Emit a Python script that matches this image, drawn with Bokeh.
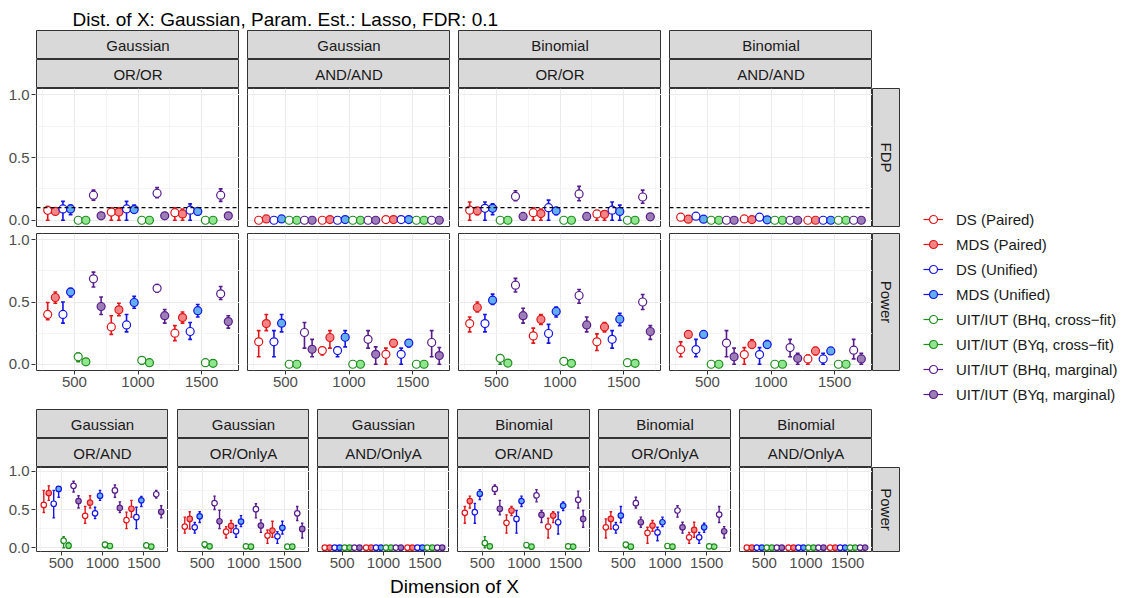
from bokeh.plotting import figure
from bokeh.layouts import row, column
from bokeh.models import (ColumnDataSource, FixedTicker, PrintfTickFormatter, Span,
                          Legend, LegendItem, Range1d, LinearAxis, Grid)
from bokeh.embed import file_html
from bokeh.resources import INLINE
from bokeh.core.properties import value
import math

FONT = "Liberation Sans"
TITLE = "Dist. of X: Gaussian, Param. Est.: Lasso, FDR: 0.1"
X_LABEL = "Dimension of X"

# ---------------------------------------------------------------- data
methods = ["DS (Paired)", "MDS (Paired)", "DS (Unified)", "MDS (Unified)",
           "UIT/IUT (BHq, cross\u2212fit)", "UIT/IUT (BYq, cross\u2212fit)",
           "UIT/IUT (BHq, marginal)", "UIT/IUT (BYq, marginal)"]
line_colors = ["#E0161B", "#E0161B", "#1414E6", "#1414E6",
               "#1E8C1E", "#1E8C1E", "#561C8C", "#561C8C"]
fill_colors = ["#FFFFFF", "#F28585", "#FFFFFF", "#63B0EC",
               "#FFFFFF", "#8FE68F", "#FFFFFF", "#9C7DB6"]
dims = [500, 1000, 1500]
fdr_level = 0.1

top_designs = ["Gaussian", "Gaussian", "Binomial", "Binomial"]
top_rules = ["OR/OR", "AND/AND", "OR/OR", "AND/AND"]
bottom_designs = ["Gaussian", "Gaussian", "Gaussian", "Binomial", "Binomial", "Binomial"]
bottom_rules = ["OR/AND", "OR/OnlyA", "AND/OnlyA", "OR/AND", "OR/OnlyA", "AND/OnlyA"]

# each block: one row of 8 methods per dimension (500, 1000, 1500)
gau_oror_fdp = [[0.079, 0.07, 0.09, 0.09, 0.0, 0.0, 0.20, 0.035],
                [0.065, 0.065, 0.09, 0.085, 0.0, 0.0, 0.215, 0.035],
                [0.06, 0.05, 0.08, 0.07, 0.0, 0.0, 0.20, 0.035]]
gau_oror_fdp_lo = [[0.0, 0.055, 0.0, 0.045, 0.0, 0.0, 0.16, 0.03],
                   [0.0, 0.0, 0.0, 0.06, 0.0, 0.0, 0.18, 0.03],
                   [0.0, 0.0, 0.0, 0.045, 0.0, 0.0, 0.15, 0.03]]
gau_oror_fdp_hi = [[0.11, 0.085, 0.15, 0.12, 0.0, 0.0, 0.24, 0.04],
                   [0.10, 0.10, 0.15, 0.12, 0.0, 0.0, 0.26, 0.04],
                   [0.10, 0.09, 0.13, 0.10, 0.0, 0.0, 0.25, 0.04]]
gau_oror_pow = [[0.40, 0.536, 0.40, 0.58, 0.06, 0.02, 0.686, 0.464],
                [0.30, 0.437, 0.316, 0.496, 0.032, 0.013, 0.61, 0.39],
                [0.25, 0.375, 0.263, 0.43, 0.013, 0.008, 0.566, 0.343]]
gau_oror_pow_lo = [[0.357, 0.49, 0.33, 0.54, 0.02, 0.0, 0.62, 0.40],
                   [0.24, 0.39, 0.26, 0.45, 0.0, 0.0, 0.58, 0.33],
                   [0.19, 0.33, 0.20, 0.38, 0.0, 0.0, 0.52, 0.29]]
gau_oror_pow_hi = [[0.496, 0.58, 0.50, 0.61, 0.09, 0.035, 0.74, 0.54],
                   [0.39, 0.49, 0.40, 0.545, 0.05, 0.03, 0.64, 0.44],
                   [0.31, 0.42, 0.335, 0.48, 0.03, 0.02, 0.625, 0.39]]

gau_andand_fdp = [[0.0, 0.01, 0.0, 0.01, 0.0, 0.0, 0.0, 0.0],
                  [0.0, 0.005, 0.0, 0.005, 0.0, 0.0, 0.0, 0.0],
                  [0.005, 0.005, 0.005, 0.005, 0.0, 0.0, 0.0, 0.0]]
gau_andand_fdp_lo = [[0.0, 0.0, 0.0, 0.0, 0.0, 0.0, 0.0, 0.0],
                     [0.0, 0.0, 0.0, 0.0, 0.0, 0.0, 0.0, 0.0],
                     [0.0, 0.0, 0.0, 0.0, 0.0, 0.0, 0.0, 0.0]]
gau_andand_fdp_hi = [[0.005, 0.02, 0.005, 0.02, 0.0, 0.0, 0.0, 0.0],
                     [0.005, 0.01, 0.005, 0.01, 0.0, 0.0, 0.0, 0.0],
                     [0.01, 0.01, 0.01, 0.01, 0.0, 0.0, 0.0, 0.0]]
gau_andand_pow = [[0.18, 0.327, 0.18, 0.33, 0.0, 0.0, 0.255, 0.12],
                  [0.11, 0.215, 0.11, 0.217, 0.0, 0.0, 0.20, 0.08],
                  [0.08, 0.17, 0.08, 0.17, 0.0, 0.0, 0.175, 0.07]]
gau_andand_pow_lo = [[0.06, 0.27, 0.06, 0.26, 0.0, 0.0, 0.13, 0.06],
                     [0.075, 0.13, 0.06, 0.14, 0.0, 0.0, 0.13, 0.0],
                     [0.0, 0.14, 0.0, 0.14, 0.0, 0.0, 0.06, 0.0]]
gau_andand_pow_hi = [[0.27, 0.40, 0.27, 0.40, 0.0, 0.0, 0.335, 0.20],
                     [0.14, 0.27, 0.14, 0.27, 0.0, 0.0, 0.27, 0.14],
                     [0.13, 0.195, 0.13, 0.195, 0.0, 0.0, 0.27, 0.135]]

bin_oror_fdp = [[0.08, 0.075, 0.095, 0.095, 0.0, 0.0, 0.19, 0.03],
                [0.06, 0.053, 0.10, 0.075, 0.0, 0.0, 0.21, 0.03],
                [0.05, 0.047, 0.08, 0.07, 0.0, 0.0, 0.185, 0.027]]
bin_oror_fdp_lo = [[0.0, 0.045, 0.0, 0.045, 0.0, 0.0, 0.155, 0.025],
                   [0.0, 0.0, 0.0, 0.045, 0.0, 0.0, 0.155, 0.025],
                   [0.0, 0.0, 0.0, 0.0, 0.0, 0.0, 0.135, 0.022]]
bin_oror_fdp_hi = [[0.145, 0.10, 0.145, 0.13, 0.0, 0.0, 0.235, 0.035],
                   [0.10, 0.09, 0.16, 0.10, 0.0, 0.0, 0.27, 0.035],
                   [0.075, 0.075, 0.145, 0.12, 0.0, 0.0, 0.24, 0.032]]
bin_oror_pow = [[0.327, 0.456, 0.327, 0.515, 0.048, 0.01, 0.635, 0.39],
                [0.228, 0.36, 0.247, 0.424, 0.024, 0.008, 0.552, 0.316],
                [0.18, 0.30, 0.20, 0.362, 0.013, 0.008, 0.50, 0.263]]
bin_oror_pow_lo = [[0.26, 0.42, 0.26, 0.48, 0.0, 0.0, 0.58, 0.33],
                   [0.17, 0.32, 0.17, 0.38, 0.0, 0.0, 0.49, 0.26],
                   [0.11, 0.26, 0.13, 0.31, 0.0, 0.0, 0.44, 0.20]]
bin_oror_pow_hi = [[0.38, 0.50, 0.40, 0.563, 0.075, 0.025, 0.69, 0.45],
                   [0.29, 0.40, 0.32, 0.46, 0.04, 0.02, 0.60, 0.38],
                   [0.244, 0.335, 0.27, 0.41, 0.025, 0.02, 0.56, 0.31]]

bin_andand_fdp = [[0.024, 0.008, 0.032, 0.008, 0.0, 0.0, 0.0, 0.0],
                  [0.01, 0.005, 0.024, 0.003, 0.0, 0.0, 0.0, 0.0],
                  [0.0, 0.0, 0.0, 0.0, 0.0, 0.0, 0.0, 0.0]]
bin_andand_fdp_lo = [[0.015, 0.0, 0.02, 0.0, 0.0, 0.0, 0.0, 0.0],
                     [0.0, 0.0, 0.01, 0.0, 0.0, 0.0, 0.0, 0.0],
                     [0.0, 0.0, 0.0, 0.0, 0.0, 0.0, 0.0, 0.0]]
bin_andand_fdp_hi = [[0.033, 0.016, 0.044, 0.016, 0.0, 0.0, 0.0, 0.0],
                     [0.02, 0.01, 0.038, 0.006, 0.0, 0.0, 0.0, 0.0],
                     [0.0, 0.0, 0.0, 0.0, 0.0, 0.0, 0.0, 0.0]]
bin_andand_pow = [[0.118, 0.24, 0.118, 0.24, 0.0, 0.0, 0.17, 0.06],
                  [0.078, 0.158, 0.078, 0.158, 0.0, 0.0, 0.134, 0.048],
                  [0.043, 0.107, 0.043, 0.107, 0.0, 0.0, 0.113, 0.043]]
bin_andand_pow_lo = [[0.06, 0.22, 0.06, 0.22, 0.0, 0.0, 0.06, 0.0],
                     [0.0, 0.13, 0.0, 0.13, 0.0, 0.0, 0.06, 0.0],
                     [0.0, 0.075, 0.0, 0.08, 0.0, 0.0, 0.043, 0.0]]
bin_andand_pow_hi = [[0.18, 0.265, 0.20, 0.265, 0.0, 0.0, 0.27, 0.13],
                     [0.134, 0.196, 0.134, 0.19, 0.0, 0.0, 0.20, 0.088],
                     [0.075, 0.134, 0.088, 0.13, 0.0, 0.0, 0.20, 0.088]]

gau_orand_pow = [[0.56, 0.715, 0.575, 0.77, 0.092, 0.026, 0.81, 0.61],
                 [0.417, 0.59, 0.45, 0.68, 0.04, 0.022, 0.75, 0.52],
                 [0.36, 0.51, 0.40, 0.62, 0.03, 0.013, 0.70, 0.47]]
gau_orand_pow_lo = [[0.46, 0.62, 0.39, 0.66, 0.0, 0.0, 0.73, 0.52],
                    [0.32, 0.52, 0.38, 0.62, 0.0, 0.0, 0.66, 0.46],
                    [0.25, 0.40, 0.25, 0.54, 0.0, 0.0, 0.65, 0.39]]
gau_orand_pow_hi = [[0.75, 0.81, 0.75, 0.80, 0.145, 0.07, 0.87, 0.68],
                    [0.54, 0.68, 0.53, 0.75, 0.07, 0.05, 0.82, 0.60],
                    [0.465, 0.62, 0.53, 0.67, 0.06, 0.03, 0.75, 0.55]]

gau_oronlya_pow = [[0.276, 0.377, 0.267, 0.41, 0.044, 0.018, 0.583, 0.346],
                   [0.21, 0.285, 0.215, 0.342, 0.018, 0.013, 0.504, 0.29],
                   [0.158, 0.224, 0.149, 0.26, 0.013, 0.013, 0.45, 0.245]]
gau_oronlya_pow_lo = [[0.19, 0.245, 0.19, 0.33, 0.0, 0.0, 0.50, 0.25],
                      [0.127, 0.20, 0.136, 0.276, 0.0, 0.0, 0.39, 0.20],
                      [0.057, 0.136, 0.057, 0.18, 0.0, 0.0, 0.355, 0.127]]
gau_oronlya_pow_hi = [[0.40, 0.47, 0.33, 0.47, 0.07, 0.04, 0.675, 0.49],
                      [0.276, 0.355, 0.29, 0.42, 0.03, 0.025, 0.575, 0.364],
                      [0.232, 0.346, 0.21, 0.346, 0.025, 0.025, 0.54, 0.32]]

gau_andonlya_pow = [[0.0] * 8, [0.0] * 8, [0.0] * 8]
gau_andonlya_pow_lo = [[0.0] * 8, [0.0] * 8, [0.0] * 8]
gau_andonlya_pow_hi = [[0.0] * 8, [0.0] * 8, [0.0] * 8]

bin_orand_pow = [[0.456, 0.61, 0.465, 0.706, 0.06, 0.018, 0.77, 0.51],
                 [0.325, 0.487, 0.377, 0.61, 0.035, 0.013, 0.684, 0.43],
                 [0.276, 0.42, 0.333, 0.55, 0.018, 0.013, 0.627, 0.377]]
bin_orand_pow_lo = [[0.32, 0.52, 0.32, 0.63, 0.0, 0.0, 0.70, 0.43],
                    [0.19, 0.42, 0.19, 0.54, 0.0, 0.0, 0.60, 0.33],
                    [0.127, 0.33, 0.18, 0.487, 0.0, 0.0, 0.52, 0.267]]
bin_orand_pow_hi = [[0.54, 0.675, 0.58, 0.76, 0.145, 0.04, 0.82, 0.62],
                    [0.43, 0.54, 0.487, 0.675, 0.06, 0.03, 0.76, 0.487],
                    [0.386, 0.47, 0.465, 0.60, 0.035, 0.025, 0.74, 0.487]]

bin_oronlya_pow = [[0.267, 0.377, 0.267, 0.42, 0.04, 0.013, 0.583, 0.333],
                   [0.193, 0.29, 0.20, 0.333, 0.022, 0.013, 0.487, 0.267],
                   [0.136, 0.232, 0.136, 0.267, 0.018, 0.013, 0.434, 0.215]]
bin_oronlya_pow_lo = [[0.127, 0.245, 0.19, 0.33, 0.0, 0.0, 0.52, 0.267],
                      [0.057, 0.215, 0.09, 0.276, 0.0, 0.0, 0.40, 0.19],
                      [0.057, 0.136, 0.057, 0.20, 0.0, 0.0, 0.33, 0.127]]
bin_oronlya_pow_hi = [[0.377, 0.47, 0.33, 0.54, 0.065, 0.03, 0.66, 0.40],
                      [0.267, 0.355, 0.267, 0.40, 0.035, 0.025, 0.55, 0.333],
                      [0.20, 0.333, 0.20, 0.32, 0.03, 0.025, 0.54, 0.276]]

bin_andonlya_pow = [[0.0] * 8, [0.0] * 8, [0.0] * 8]
bin_andonlya_pow_lo = [[0.0] * 8, [0.0] * 8, [0.0] * 8]
bin_andonlya_pow_hi = [[0.0] * 8, [0.0] * 8, [0.0] * 8]

top_fdp = [(gau_oror_fdp, gau_oror_fdp_lo, gau_oror_fdp_hi),
           (gau_andand_fdp, gau_andand_fdp_lo, gau_andand_fdp_hi),
           (bin_oror_fdp, bin_oror_fdp_lo, bin_oror_fdp_hi),
           (bin_andand_fdp, bin_andand_fdp_lo, bin_andand_fdp_hi)]
top_pow = [(gau_oror_pow, gau_oror_pow_lo, gau_oror_pow_hi),
           (gau_andand_pow, gau_andand_pow_lo, gau_andand_pow_hi),
           (bin_oror_pow, bin_oror_pow_lo, bin_oror_pow_hi),
           (bin_andand_pow, bin_andand_pow_lo, bin_andand_pow_hi)]
bottom_pow = [(gau_orand_pow, gau_orand_pow_lo, gau_orand_pow_hi),
              (gau_oronlya_pow, gau_oronlya_pow_lo, gau_oronlya_pow_hi),
              (gau_andonlya_pow, gau_andonlya_pow_lo, gau_andonlya_pow_hi),
              (bin_orand_pow, bin_orand_pow_lo, bin_orand_pow_hi),
              (bin_oronlya_pow, bin_oronlya_pow_lo, bin_oronlya_pow_hi),
              (bin_andonlya_pow, bin_andonlya_pow_lo, bin_andonlya_pow_hi)]

# ---------------------------------------------------------------- style
DODGE = 60        # spacing of the 8 methods inside one dimension group
CAP = 15          # half width of error bar caps (data units)
X_RANGE = (202, 1798)
Y_RANGE = (-0.05, 1.05)
STRIP_FILL = "#D9D9D9"
FRAME = "#333333"
TICK_TEXT = "#4D4D4D"
AXIS_STYLE = dict(axis_line_color=None, major_tick_line_color=FRAME, major_tick_out=4,
                  major_tick_in=0, minor_tick_line_color=None, major_label_standoff=2,
                  major_label_text_font=FONT, major_label_text_font_size="15px",
                  major_label_text_color=TICK_TEXT)


def build_source(series):
    est, lo, hi = series
    d = dict(x=[], y=[], lo=[], hi=[], cl=[], cr=[], lc=[], fc=[])
    for g, dim in enumerate(dims):
        for m in range(len(methods)):
            xv = dim + (m - (len(methods) - 1) / 2) * DODGE
            d["x"].append(xv)
            d["y"].append(est[g][m])
            d["lo"].append(lo[g][m])
            d["hi"].append(hi[g][m])
            d["cl"].append(xv - CAP)
            d["cr"].append(xv + CAP)
            d["lc"].append(line_colors[m])
            d["fc"].append(fill_colors[m])
    return ColumnDataSource(d)


def blank(fw, fh, left=0, top=0, bottom=0, right=0, fill="white", outline=None,
          xr=(0, 1), yr=(0, 1)):
    f = figure(frame_width=fw, frame_height=fh, x_range=Range1d(*xr), y_range=Range1d(*yr),
               x_axis_location=None, y_axis_location=None, toolbar_location=None,
               output_backend="svg", min_border_left=left, min_border_right=right,
               min_border_top=top, min_border_bottom=bottom,
               background_fill_color=fill, border_fill_color="white",
               outline_line_color=outline, outline_line_width=1)
    f.center = [c for c in f.center if not isinstance(c, Grid)]
    return f


def strip(label, fw, fh, left=0, top=0, bottom=0, vertical=False):
    s = blank(fw, fh, left=left, top=top, bottom=bottom, fill=STRIP_FILL, outline=FRAME)
    s.text(x=[0.5], y=[0.5], text=[label], text_align="center", text_baseline="middle",
           angle=-math.pi / 2 if vertical else 0,
           text_font=value(FONT), text_font_size="15px", text_color="#1A1A1A")
    return s


def y_axis_fig(fh, top, bottom):
    # narrow figure that only carries the shared y axis of a panel row
    a = blank(1, fh, left=35, top=top, bottom=bottom, yr=Y_RANGE)
    a.add_layout(LinearAxis(ticker=FixedTicker(ticks=[0, 0.5, 1.0]),
                            formatter=PrintfTickFormatter(format="%.1f"), **AXIS_STYLE), "left")
    return a


def panel(series, fw, fh, left, top, bottom, size, bar_w, fdr=False):
    p = blank(fw, fh, left=left, top=top, bottom=bottom, outline=FRAME,
              xr=X_RANGE, yr=Y_RANGE)
    p.add_layout(Grid(dimension=0, ticker=FixedTicker(ticks=dims, minor_ticks=[250, 750, 1250, 1750]),
                      grid_line_color="#EBEBEB", grid_line_width=1.1,
                      minor_grid_line_color="#F2F2F2", minor_grid_line_width=0.8), "center")
    p.add_layout(Grid(dimension=1, ticker=FixedTicker(ticks=[0, 0.5, 1.0], minor_ticks=[0.25, 0.75]),
                      grid_line_color="#EBEBEB", grid_line_width=1.1,
                      minor_grid_line_color="#F2F2F2", minor_grid_line_width=0.8), "center")
    if bottom > 4:
        p.add_layout(LinearAxis(ticker=FixedTicker(ticks=dims), **AXIS_STYLE), "below")
    if fdr:
        p.add_layout(Span(location=fdr_level, dimension="width", line_color="black",
                          line_width=1.3, line_dash="4 3"))
    src = build_source(series)
    p.segment(x0="x", y0="lo", x1="x", y1="hi", line_color="lc", line_width=bar_w, source=src)
    p.segment(x0="cl", y0="hi", x1="cr", y1="hi", line_color="lc", line_width=bar_w, source=src)
    p.segment(x0="cl", y0="lo", x1="cr", y1="lo", line_color="lc", line_width=bar_w, source=src)
    p.scatter(x="x", y="y", size=size, marker="circle", line_color="lc", fill_color="fc",
              line_width=1.2, source=src)
    return p


# ---------------------------------------------------------------- title
title_fig = blank(1133, 30, xr=(0, 1133), yr=(0, 30))
title_fig.text(x=[36], y=[11], text=[TITLE], text_align="left", text_baseline="alphabetic",
               text_font=value(FONT), text_font_size="19px", text_color="black")

# ---------------------------------------------------------------- top block
TOP_W = 203
top_axes = column(y_axis_fig(138, 58, 4), y_axis_fig(137, 3, 39), spacing=0)
top_cols = []
for i in range(4):
    left = 0 if i == 0 else 8
    sA = strip(top_designs[i], TOP_W, 29, left=left)
    sB = strip(top_rules[i], TOP_W, 29, left=left)
    pf = panel(top_fdp[i], TOP_W, 138, left, 0, 4, 8, 1.6, fdr=True)
    pp = panel(top_pow[i], TOP_W, 137, left, 3, 39, 8, 1.6)
    top_cols.append(column(sA, sB, pf, pp, spacing=0))

r_fdp = strip("FDP", 28, 138, top=58, bottom=4, vertical=True)
r_pow = strip("Power", 28, 137, top=3, bottom=39, vertical=True)
right_top = column(r_fdp, r_pow, spacing=0)

# legend: one off-frame proxy per method supplies the swatch
leg_fig = blank(233, 379)
items = []
for m, name in enumerate(methods):
    lr = leg_fig.line(x=[-2, -1], y=[-2, -1], line_color=line_colors[m], line_width=1.2)
    sr = leg_fig.scatter(x=[-1], y=[-1], marker="circle", size=8, line_color=line_colors[m],
                         fill_color=fill_colors[m], line_width=1.2)
    items.append(LegendItem(label=name, renderers=[lr, sr]))
legend = Legend(items=items, location=(23, 5), padding=0, margin=0, border_line_color=None,
                background_fill_alpha=0, glyph_width=20, glyph_height=20, label_height=20,
                spacing=5, label_standoff=13, label_text_font=FONT,
                label_text_font_size="15px", label_text_color="#1A1A1A")
leg_fig.add_layout(legend)

top_row = row(top_axes, *top_cols, right_top, leg_fig, spacing=0)

# ---------------------------------------------------------------- bottom block
bot_widths = [132, 132, 132, 133, 133, 133]
bot_lefts = [0, 9, 8, 8, 8, 8]
bot_cols = [y_axis_fig(84, 58, 23)]
for i in range(6):
    w, left = bot_widths[i], bot_lefts[i]
    sA = strip(bottom_designs[i], w, 29, left=left)
    sB = strip(bottom_rules[i], w, 29, left=left)
    pp = panel(bottom_pow[i], w, 84, left, 0, 23, 5.5, 1.4)
    bot_cols.append(column(sA, sB, pp, spacing=0))
r_bot = strip("Power", 28, 84, top=58, bottom=23, vertical=True)
bottom_row = row(*bot_cols, r_bot, spacing=0)

# ---------------------------------------------------------------- shared x label
xlab = blank(836, 24, left=36, yr=(0, 24))
xlab.text(x=[0.5], y=[12], text=[X_LABEL], text_align="center", text_baseline="middle",
          text_font=value(FONT), text_font_size="19px", text_color="black")

layout = column(title_fig, top_row, bottom_row, xlab, spacing=0)

open("out.html", "w").write(file_html(layout, INLINE))
